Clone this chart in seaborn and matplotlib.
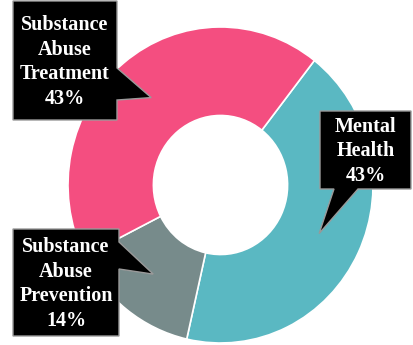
import matplotlib
matplotlib.use("Agg")
import matplotlib.pyplot as plt
from matplotlib.patches import Polygon
import numpy as np
import seaborn as sns

# ---- data ----
categories = ["Mental\nHealth", "Substance\nAbuse\nPrevention", "Substance\nAbuse\nTreatment"]
shares = [43, 14, 43]
label_texts = [f"{c}\n{v}%" for c, v in zip(categories, shares)]
palette_hex = ["#5AB8C2", "#778B8B", "#F44E80"]

sns.set_style("white")
plt.rcParams['font.family'] = ['Liberation Serif', 'DejaVu Serif']

W, H = 413, 345
fig = plt.figure(figsize=(W / 100, H / 100), dpi=100)
fig.patch.set_facecolor("white")

# pie axes (slightly elliptical like the reference)
ax = fig.add_axes([0, 0, 1, 1])
colors = sns.color_palette(palette_hex)
wedges, _ = ax.pie(shares, colors=colors, startangle=52, counterclock=False,
                   radius=1.0,
                   wedgeprops=dict(width=0.56, edgecolor="white", linewidth=1.2))
cx_px, cy_px = 220.5, 185.0
sx, sy = 152.5, 158.0
ax.set_aspect("auto")
ax.set_xlim(-cx_px / sx, (W - cx_px) / sx)
ax.set_ylim(-(H - cy_px) / sy, cy_px / sy)
ax.axis("off")

# overlay axes in pixel coordinates (y down)
ov = fig.add_axes([0, 0, 1, 1], facecolor="none")
ov.set_xlim(0, W)
ov.set_ylim(H, 0)
ov.axis("off")

def tip_for(w, r=0.716):
    mid = np.deg2rad((w.theta1 + w.theta2) / 2)
    return cx_px + sx * r * np.cos(mid), cy_px - sy * r * np.sin(mid)

# callout layout: box (x0, y0, x1, y1), pointer base side and span
layouts = [
    dict(box=(320, 111, 411, 189), side="bottom", base=(334, 358)),
    dict(box=(13, 229, 119, 336), side="right", base=(242, 269)),
    dict(box=(13, 1, 117, 120), side="right", base=(68, 100)),
]

for w, txt, lay in zip(wedges, label_texts, layouts):
    x0, y0, x1, y1 = lay["box"]
    tx, ty = tip_for(w)
    b0, b1 = lay["base"]
    if lay["side"] == "right":
        pts = [(x0, y0), (x1, y0), (x1, b0), (tx, ty), (x1, b1), (x1, y1), (x0, y1)]
    else:
        pts = [(x0, y0), (x1, y0), (x1, y1), (b1, y1), (tx, ty), (b0, y1), (x0, y1)]
    ov.add_patch(Polygon(pts, closed=True, facecolor="black", edgecolor="#9a9a9a",
                         linewidth=1.0, joinstyle="miter", zorder=5))
    ov.text((x0 + x1) / 2, (y0 + y1) / 2 + 1.5, txt, color="white", fontsize=14.5,
            fontweight="bold", ha="center", va="center", linespacing=1.32,
            multialignment="center", zorder=6)

fig.savefig("out.png", dpi=100, facecolor="white")
